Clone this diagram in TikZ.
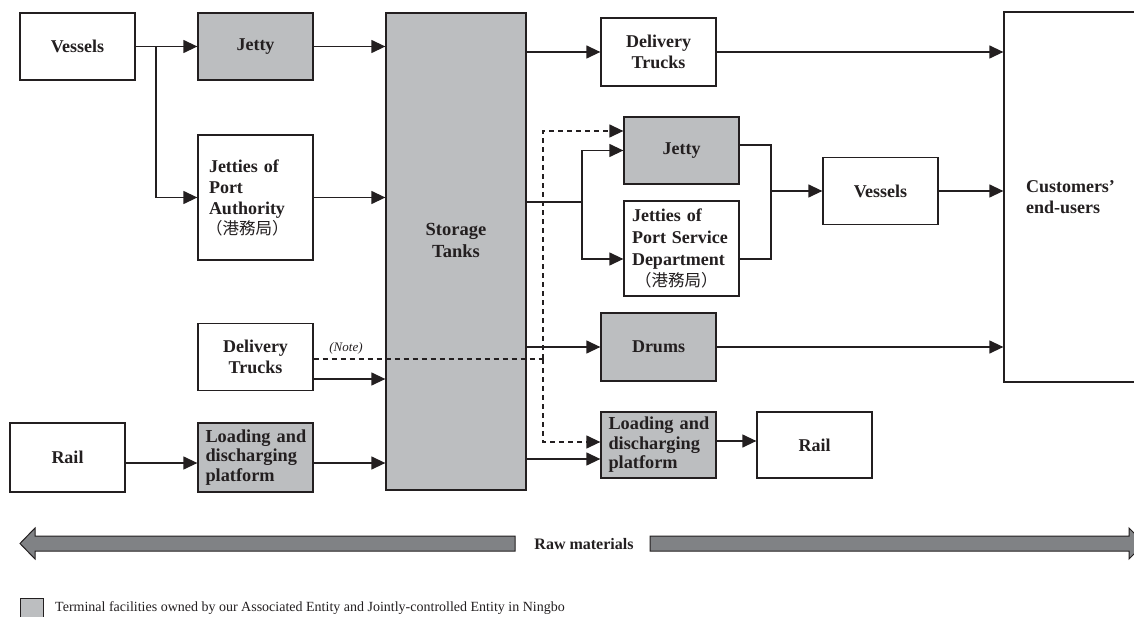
\documentclass[tikz,border=0pt]{standalone}
\usepackage{fontspec}
\setmainfont{Liberation Serif}
\newfontfamily\cjk{Noto Sans CJK TC}
\usetikzlibrary{arrows.meta,calc}
\definecolor{lc}{HTML}{231F20}
\definecolor{gf}{HTML}{BCBEC0}
\definecolor{af}{HTML}{808285}
\tikzset{
  box/.style={draw=lc, line width=1.3pt, fill=white, minimum width=115pt, minimum height=67pt, inner sep=0pt,
    font=\bfseries\fontsize{18}{21}\selectfont, align=center, text=lc},
  shaded/.style={fill=gf},
  conn/.style={draw=lc, line width=1.3pt},
  arr/.style={conn, -{Triangle[length=14pt,width=13pt]}},
  dashconn/.style={conn, dash pattern=on 5pt off 4pt},
  bigarrow/.style={draw=lc, line width=1pt, fill=af}
}
\newcommand{\gwj}{{\cjk\mdseries\fontsize{16.5}{19}\selectfont （港務局）}}
\begin{document}
\begin{tikzpicture}[x=1pt,y=-1pt]
\useasboundingbox (0,0) rectangle (1134,617);
\clip (0,0) rectangle (1134,617);
% left side
\node[box] (v1) at (77.5,46.5) {Vessels};
\node[box,shaded] (j1) at (255.5,46.5) {Jetty};
\node[box,minimum height=125pt,text width=93pt,align=left] (pa) at (255.5,197.5) {Jetties of\\Port\\Authority\\[-1pt]\hspace*{-3pt}\gwj};
\node[box] (dt2) at (255.5,357) {Delivery\\Trucks};
\node[box,minimum height=69pt] (r1) at (67.5,457.5) {Rail};
\node[box,shaded,minimum height=69pt,text width=100pt,align=left,font=\bfseries\fontsize{18.3}{19.5}\selectfont] (lp1) at (255.5,457.5) {\mbox{Loading and}\\discharging\\platform};
% storage
\node[box,shaded,minimum width=140pt,minimum height=477pt] (st) at (456,251.5) {};
\node[font=\bfseries\fontsize{18.5}{22}\selectfont,align=center,text=lc] (stl) at (456,240) {Storage\\Tanks};
% right side
\node[box,minimum height=68pt] (dt1) at (658.5,52) {Delivery\\Trucks};
\node[box,shaded] (j2) at (681.5,150.5) {Jetty};
\node[box,minimum height=95pt,text width=99pt,align=left,font=\bfseries\fontsize{18}{22}\selectfont] (psd) at (681.5,248.5) {Jetties of\\Port Service\\Department\\[-1pt]\hspace*{3pt}\gwj};
\node[box] (v2) at (880.5,191) {Vessels};
\node[box,minimum width=146pt,minimum height=370pt,text width=102pt,align=left] (cu) at (1077,197) {Customers'\\end-users};
\node[box,shaded,minimum height=68pt] (dr) at (658.5,347) {Drums};
\node[box,shaded,minimum height=66pt,text width=100pt,align=left,font=\bfseries\fontsize{18.3}{19.5}\selectfont] (lp2) at (658.5,445) {\mbox{Loading and}\\discharging\\platform};
\node[box,minimum height=66pt] (r2) at (814.5,445) {Rail};
% coordinates
\coordinate (b1) at (156,46.5);
\coordinate (b2) at (582,202);
\coordinate (b3) at (771,191);
\coordinate (d1) at (543,359);
% connectors left
\draw[arr] (v1.east) -- (j1.west);
\draw[arr] (b1) |- (pa.west);
\draw[arr] (j1.east) -- (j1.east -| st.west);
\draw[arr] (pa.east) -- (pa.east -| st.west);
\draw[arr] ([yshift=-22pt]dt2.east) -- ([yshift=-22pt]dt2.east -| st.west);
\draw[arr] ([yshift=-5.5pt]r1.east) -- ([yshift=-5.5pt]lp1.west);
\draw[arr] ([yshift=-5.5pt]lp1.east) -- ([yshift=-5.5pt]lp1.east -| st.west);
% dashed note line
\draw[dashconn] ([yshift=-2pt]dt2.east) -- (d1);
\draw[dashconn,-{Triangle[length=14pt,width=13pt]}] (d1) |- ([yshift=19.5pt]j2.west);
\draw[dashconn,-{Triangle[length=14pt,width=13pt]}] (d1) |- ([yshift=3pt]lp2.west);
\node[font=\itshape\fontsize{13}{15}\selectfont,text=lc] (note) at (346,348) {(Note)};
% connectors right
\draw[arr] (st.east |- dt1.west) -- (dt1.west);
\draw[arr] (dt1.east) -- (dt1.east -| cu.west);
\draw[conn] (st.east |- b2) -- (b2);
\draw[arr] (b2) |- (j2.west);
\draw[arr] (b2) |- ([yshift=-10.5pt]psd.west);
\draw[conn] ([yshift=5.5pt]j2.east) -| (b3) |- ([yshift=-10.5pt]psd.east);
\draw[arr] (b3) -- (v2.west);
\draw[arr] (v2.east) -- (v2.east -| cu.west);
\draw[arr] (st.east |- dr.west) -- (dr.west);
\draw[arr] (dr.east) -- (dr.east -| cu.west);
\draw[arr] ([yshift=-14pt]lp2.west -| st.east) -- ([yshift=-14pt]lp2.west);
\draw[arr] ([yshift=4pt]lp2.east) -- ([yshift=4pt]r2.west);
% raw materials arrows
\draw[bigarrow] (515,536) -- (35,536) -- (35,528) -- (20,543.5) -- (35,559) -- (35,551) -- (515,551) -- cycle;
\draw[bigarrow] (650,536) -- (1129,536) -- (1129,528) -- (1144.5,543.5) -- (1129,559) -- (1129,551) -- (650,551) -- cycle;
\node[font=\bfseries\fontsize{16}{18}\selectfont,text=lc] (raw) at (584,544) {Raw materials};
% legend
\node[draw=lc,line width=1pt,fill=gf,minimum width=23pt,minimum height=24pt,inner sep=0pt,anchor=north west] (lg) at (20,598) {};
\node[font=\fontsize{14}{16}\selectfont,text=lc,anchor=west,inner sep=0pt] (lgt) at (55,608) {Terminal facilities owned by our Associated Entity and Jointly-controlled Entity in Ningbo};
\end{tikzpicture}
\end{document}
